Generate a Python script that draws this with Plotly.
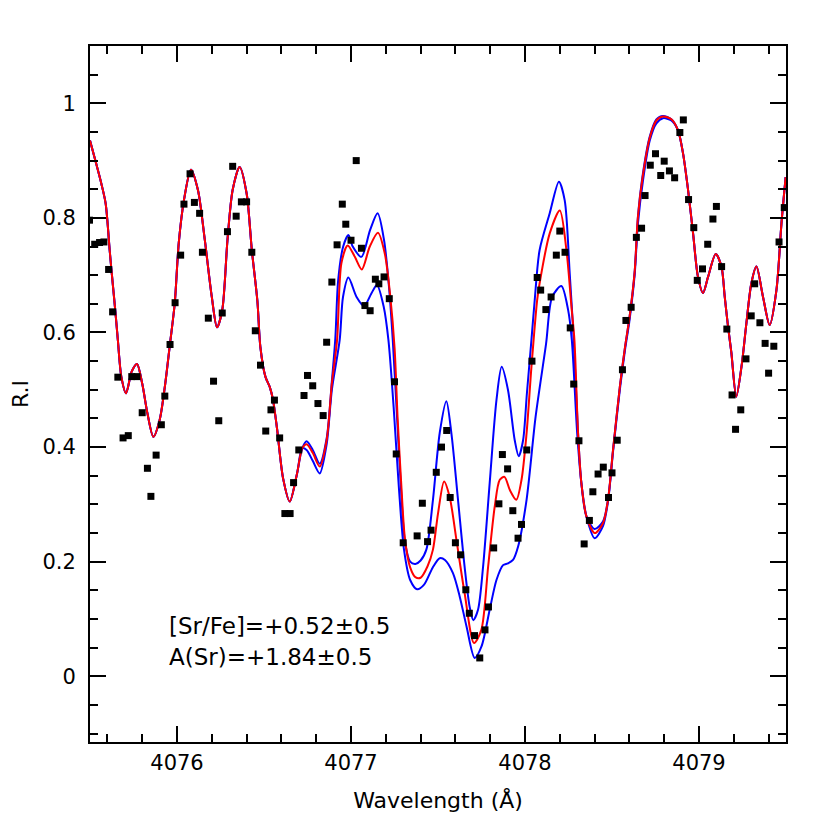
import plotly.graph_objects as go

# observed spectrum (black squares)
obs_wl = [4075.497, 4075.527, 4075.555, 4075.580, 4075.607, 4075.630, 4075.660, 4075.690, 4075.720, 4075.740,
          4075.770, 4075.800, 4075.830, 4075.850, 4075.880, 4075.910, 4075.930, 4075.960, 4075.989, 4076.021,
          4076.040, 4076.075, 4076.100, 4076.130, 4076.146, 4076.180, 4076.210, 4076.240, 4076.260, 4076.290,
          4076.320, 4076.340, 4076.370, 4076.400, 4076.430, 4076.450, 4076.480, 4076.510, 4076.540, 4076.560,
          4076.590, 4076.620, 4076.650, 4076.670, 4076.700, 4076.730, 4076.750, 4076.780, 4076.810, 4076.840,
          4076.860, 4076.890, 4076.920, 4076.950, 4076.970, 4077.000, 4077.030, 4077.060, 4077.080, 4077.110,
          4077.140, 4077.160, 4077.190, 4077.220, 4077.250, 4077.260, 4077.300, 4077.380, 4077.410, 4077.440,
          4077.460, 4077.490, 4077.520, 4077.550, 4077.570, 4077.600, 4077.630, 4077.660, 4077.680, 4077.710,
          4077.740, 4077.770, 4077.790, 4077.820, 4077.850, 4077.870, 4077.900, 4077.930, 4077.960, 4077.980,
          4078.010, 4078.040, 4078.070, 4078.090, 4078.120, 4078.150, 4078.180, 4078.200, 4078.230, 4078.260,
          4078.280, 4078.310, 4078.340, 4078.370, 4078.390, 4078.420, 4078.450, 4078.480, 4078.500, 4078.530,
          4078.560, 4078.580, 4078.610, 4078.640, 4078.670, 4078.690, 4078.720, 4078.750, 4078.780, 4078.800,
          4078.830, 4078.860, 4078.890, 4078.910, 4078.940, 4078.970, 4078.990, 4079.020, 4079.050, 4079.080,
          4079.100, 4079.130, 4079.160, 4079.190, 4079.210, 4079.240, 4079.270, 4079.300, 4079.320, 4079.350,
          4079.380, 4079.400, 4079.430, 4079.460, 4079.490]
obs_flux = [0.796, 0.754, 0.757, 0.758, 0.710, 0.636, 0.522, 0.416, 0.420, 0.523,
            0.523, 0.460, 0.363, 0.314, 0.386, 0.439, 0.489, 0.579, 0.652, 0.735,
            0.824, 0.877, 0.827, 0.808, 0.740, 0.625, 0.515, 0.446, 0.634, 0.776,
            0.890, 0.803, 0.828, 0.828, 0.740, 0.603, 0.543, 0.428, 0.465, 0.482,
            0.416, 0.284, 0.284, 0.338, 0.395, 0.490, 0.525, 0.507, 0.476, 0.455,
            0.583, 0.688, 0.753, 0.824, 0.789, 0.761, 0.900, 0.747, 0.647, 0.638,
            0.693, 0.685, 0.697, 0.659, 0.514, 0.388, 0.233, 0.245, 0.302, 0.235,
            0.255, 0.356, 0.400, 0.429, 0.312, 0.233, 0.212, 0.151, 0.110, 0.071,
            0.032, 0.081, 0.121, 0.224, 0.301, 0.387, 0.362, 0.289, 0.241, 0.265,
            0.395, 0.550, 0.696, 0.674, 0.640, 0.662, 0.735, 0.777, 0.740, 0.608,
            0.510, 0.411, 0.231, 0.272, 0.322, 0.353, 0.365, 0.312, 0.355, 0.412,
            0.535, 0.621, 0.644, 0.766, 0.782, 0.839, 0.892, 0.912, 0.874, 0.899,
            0.882, 0.870, 0.949, 0.971, 0.832, 0.783, 0.691, 0.711, 0.754, 0.798,
            0.820, 0.715, 0.606, 0.491, 0.431, 0.465, 0.554, 0.629, 0.685, 0.617,
            0.581, 0.529, 0.576, 0.758, 0.818]

# synthetic spectra: part shared by all three models
left_wl = [4075.500, 4075.530, 4075.565, 4075.590, 4075.613, 4075.623, 4075.646, 4075.660, 4075.680, 4075.707,
           4075.740, 4075.770, 4075.800, 4075.830, 4075.864, 4075.900, 4075.930, 4075.960, 4075.987, 4076.010,
           4076.040, 4076.080, 4076.120, 4076.160, 4076.200, 4076.230, 4076.260, 4076.290, 4076.320, 4076.360,
           4076.400, 4076.430, 4076.462, 4076.479, 4076.508, 4076.533, 4076.552, 4076.575, 4076.610, 4076.648,
           4076.690, 4076.720]
left_flux = [0.935, 0.901, 0.860, 0.825, 0.744, 0.710, 0.636, 0.587, 0.523, 0.494,
             0.532, 0.545, 0.511, 0.459, 0.418, 0.447, 0.505, 0.581, 0.651, 0.756,
             0.831, 0.884, 0.849, 0.761, 0.662, 0.609, 0.639, 0.761, 0.849, 0.889,
             0.843, 0.744, 0.655, 0.575, 0.523, 0.505, 0.482, 0.432, 0.345, 0.305,
             0.354, 0.398]

right_wl = [4078.879, 4078.908, 4078.937, 4078.966, 4078.994, 4079.023, 4079.052, 4079.096, 4079.129, 4079.148,
            4079.167, 4079.186, 4079.214, 4079.244, 4079.272, 4079.301, 4079.330, 4079.368, 4079.406, 4079.445,
            4079.474, 4079.498]
right_flux = [0.953, 0.913, 0.849, 0.773, 0.697, 0.669, 0.697, 0.737, 0.715, 0.662,
              0.610, 0.565, 0.488, 0.540, 0.615, 0.686, 0.715, 0.662, 0.613, 0.674,
              0.791, 0.871]

# Sr-sensitive part, low abundance (upper blue)
low_wl = [4076.745, 4076.780, 4076.820, 4076.860, 4076.890, 4076.910, 4076.926, 4076.955, 4076.985, 4077.010,
          4077.060, 4077.110, 4077.153, 4077.190, 4077.220, 4077.240, 4077.265, 4077.285, 4077.310, 4077.340,
          4077.370, 4077.400, 4077.433, 4077.471, 4077.510, 4077.548, 4077.577, 4077.615, 4077.653, 4077.682,
          4077.703, 4077.730, 4077.759, 4077.797, 4077.836, 4077.866, 4077.902, 4077.941, 4077.964, 4077.989,
          4078.011, 4078.037, 4078.056, 4078.084, 4078.142, 4078.195, 4078.228, 4078.257, 4078.280, 4078.305,
          4078.324, 4078.353, 4078.400, 4078.448, 4078.477, 4078.506, 4078.545, 4078.575, 4078.600, 4078.630,
          4078.649, 4078.678, 4078.717, 4078.755, 4078.793, 4078.841]
low_flux = [0.410, 0.395, 0.371, 0.415, 0.515, 0.590, 0.690, 0.750, 0.770, 0.750,
            0.732, 0.779, 0.808, 0.761, 0.674, 0.587, 0.450, 0.340, 0.235, 0.200,
            0.196, 0.202, 0.221, 0.308, 0.425, 0.480, 0.424, 0.308, 0.191, 0.121,
            0.098, 0.116, 0.191, 0.337, 0.482, 0.540, 0.500, 0.412, 0.384, 0.412,
            0.494, 0.587, 0.657, 0.744, 0.808, 0.863, 0.831, 0.703, 0.587, 0.424,
            0.337, 0.279, 0.257, 0.270, 0.308, 0.395, 0.505, 0.575, 0.625, 0.705,
            0.802, 0.878, 0.942, 0.972, 0.978, 0.972]

# best fit (red)
best_wl = [4076.745, 4076.780, 4076.820, 4076.860, 4076.890, 4076.920, 4076.945, 4076.981, 4077.022, 4077.062,
           4077.108, 4077.155, 4077.194, 4077.226, 4077.251, 4077.268, 4077.288, 4077.310, 4077.340, 4077.370,
           4077.400, 4077.440, 4077.471, 4077.500, 4077.535, 4077.567, 4077.606, 4077.653, 4077.707, 4077.749,
           4077.788, 4077.826, 4077.855, 4077.882, 4077.913, 4077.950, 4077.980, 4078.009, 4078.037, 4078.070,
           4078.084, 4078.142, 4078.200, 4078.238, 4078.267, 4078.284, 4078.305, 4078.324, 4078.353, 4078.401,
           4078.448, 4078.477, 4078.506, 4078.545, 4078.575, 4078.600, 4078.630, 4078.649, 4078.678, 4078.717,
           4078.755, 4078.793, 4078.841]
best_flux = [0.405, 0.390, 0.366, 0.412, 0.511, 0.587, 0.721, 0.752, 0.732, 0.710,
             0.750, 0.774, 0.738, 0.662, 0.570, 0.450, 0.340, 0.240, 0.190, 0.173,
             0.172, 0.192, 0.221, 0.284, 0.340, 0.313, 0.238, 0.145, 0.058, 0.081,
             0.191, 0.296, 0.343, 0.348, 0.325, 0.308, 0.343, 0.424, 0.540, 0.657,
             0.686, 0.773, 0.813, 0.744, 0.645, 0.587, 0.424, 0.337, 0.279, 0.250,
             0.267, 0.308, 0.395, 0.505, 0.575, 0.625, 0.705, 0.802, 0.875, 0.940,
             0.970, 0.977, 0.972]

# high abundance (lower blue)
high_wl = [4076.745, 4076.780, 4076.820, 4076.860, 4076.890, 4076.935, 4076.954, 4076.985, 4077.032, 4077.075,
           4077.117, 4077.149, 4077.188, 4077.215, 4077.245, 4077.275, 4077.305, 4077.340, 4077.380, 4077.420,
           4077.470, 4077.510, 4077.540, 4077.586, 4077.625, 4077.664, 4077.711, 4077.750, 4077.797, 4077.836,
           4077.874, 4077.902, 4077.931, 4077.960, 4078.009, 4078.061, 4078.121, 4078.156, 4078.209, 4078.248,
           4078.269, 4078.300, 4078.324, 4078.353, 4078.401, 4078.448, 4078.477, 4078.506, 4078.545, 4078.575,
           4078.600, 4078.630, 4078.649, 4078.678, 4078.717, 4078.755, 4078.793, 4078.841]
high_flux = [0.395, 0.376, 0.354, 0.405, 0.500, 0.587, 0.662, 0.696, 0.662, 0.646,
             0.668, 0.683, 0.645, 0.587, 0.470, 0.330, 0.220, 0.168, 0.152, 0.160,
             0.190, 0.206, 0.203, 0.180, 0.139, 0.087, 0.032, 0.052, 0.116, 0.168,
             0.194, 0.197, 0.203, 0.226, 0.308, 0.453, 0.580, 0.662, 0.681, 0.639,
             0.587, 0.424, 0.337, 0.279, 0.241, 0.262, 0.305, 0.392, 0.500, 0.570,
             0.620, 0.700, 0.790, 0.865, 0.935, 0.965, 0.974, 0.970]

labels = ["[Sr/Fe]=+0.52\u00b10.5", "A(Sr)=+1.84\u00b10.5"]
label_y = [0.087, 0.033]

FONT = "DejaVu Sans"


def full_curve(mid_wl, mid_flux):
    return left_wl + mid_wl + right_wl, left_flux + mid_flux + right_flux


fig = go.Figure()

for mid_wl, mid_flux, color in [(low_wl, low_flux, "#0000ff"),
                                (high_wl, high_flux, "#0000ff"),
                                (best_wl, best_flux, "#ff0000")]:
    x, y = full_curve(mid_wl, mid_flux)
    fig.add_trace(go.Scatter(x=x, y=y, mode="lines",
                             line=dict(color=color, width=2, shape="spline", smoothing=0.8),
                             showlegend=False, hoverinfo="skip"))

fig.add_trace(go.Scatter(x=obs_wl, y=obs_flux, mode="markers",
                         marker=dict(symbol="square", size=7, color="black"),
                         showlegend=False))

axis_common = dict(showline=True, linecolor="black", linewidth=2, mirror="allticks",
                   ticks="inside", ticklen=16, tickwidth=1.5, tickcolor="black",
                   showgrid=False, zeroline=False, automargin=False,
                   tickfont=dict(family=FONT, size=21, color="black"))

fig.update_xaxes(range=[4075.5, 4079.5], dtick=1, tick0=4076, ticklabelstandoff=1,
                 minor=dict(dtick=0.2, ticks="inside", ticklen=8, tickwidth=1.5, tickcolor="black"),
                 title=dict(text="Wavelength (\u00c5)", font=dict(family=FONT, size=22, color="black"), standoff=18),
                 **axis_common)
fig.update_yaxes(range=[-0.1147, 1.1], dtick=0.2, tick0=0, ticklabelstandoff=8,
                 minor=dict(dtick=0.05, ticks="inside", ticklen=8, tickwidth=1.5, tickcolor="black"),
                 title=dict(text="R.I", font=dict(family=FONT, size=22, color="black"), standoff=9),
                 **axis_common)

for txt, yy in zip(labels, label_y):
    fig.add_annotation(x=4075.94, y=yy, xref="x", yref="y", text=txt,
                       showarrow=False, xanchor="left", yanchor="middle",
                       font=dict(family=FONT, size=23, color="black"))

fig.update_layout(width=830, height=830, plot_bgcolor="white", paper_bgcolor="white",
                  margin=dict(l=82, r=52, t=38, b=96), showlegend=False)

fig.write_html("out.html")
